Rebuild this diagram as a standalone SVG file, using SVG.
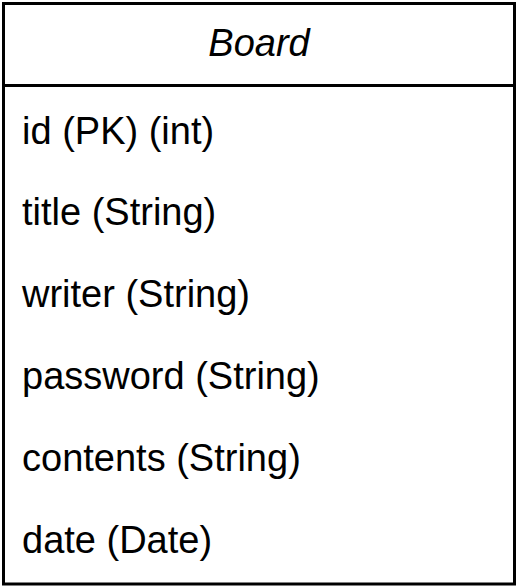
<svg xmlns="http://www.w3.org/2000/svg" width="521" height="588" viewBox="0 0 521 588">
<style>
.box{fill:#ffffff;stroke:#000000;stroke-width:3}
.t{font-family:"Liberation Sans",Arial,sans-serif;font-size:38px;fill:#000000}
.h{font-style:italic;text-anchor:middle}
</style>
<rect width="521" height="588" fill="#ffffff"/>
<g id="board">
<rect class="box" x="3.5" y="3.5" width="511" height="580.5"/>
<line x1="3.5" y1="85.5" x2="514.5" y2="85.5" stroke="#000000" stroke-width="3"/>
<text class="t h" x="259" y="56">Board</text>
<text class="t" x="22" y="143.5">id (PK) (int)</text>
<text class="t" x="22" y="225.4">title (String)</text>
<text class="t" x="22" y="307.3">writer (String)</text>
<text class="t" x="22" y="389.2">password (String)</text>
<text class="t" x="22" y="471.1">contents (String)</text>
<text class="t" x="22" y="553">date (Date)</text>
</g>
<g id="connectors"/>
</svg>
